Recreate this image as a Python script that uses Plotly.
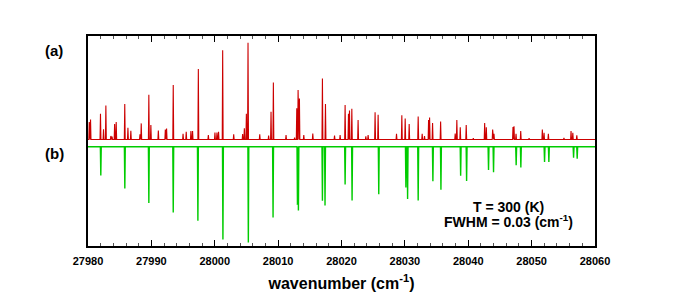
import plotly.graph_objects as go

# ---- data ----
red_pos = [27980.2, 27980.4, 27981.97, 27982.45, 27982.82, 27983.6, 27983.8, 27984.2, 27984.45,
           27985.8, 27986.3, 27986.76, 27988.2, 27988.4, 27989.6, 27989.92, 27991.1, 27992.2,
           27992.4, 27993.45, 27995.0, 27995.5, 27996.24, 27996.5, 27997.41, 27998.99, 28000.03,
           28000.35, 28000.6, 28001.25, 28002.99, 28004.4, 28004.67, 28004.99, 28005.25, 28007.1,
           28008.5, 28008.88, 28009.25, 28011.25, 28012.6, 28012.94, 28013.15, 28013.36, 28014.05,
           28015.47, 28016.99, 28017.47, 28018.9, 28019.78, 28020.57, 28021.1, 28021.26, 28021.63,
           28022.62, 28023.84, 28024.2, 28025.3, 28025.78, 28028.68, 28029.52, 28030.05, 28030.68,
           28032.1, 28032.73, 28033.1, 28033.74, 28033.9, 28034.37, 28035.64, 28037.94, 28038.2,
           28038.74, 28039.68, 28040.8, 28042.59, 28042.85, 28043.85, 28044.06, 28047.06, 28047.22,
           28047.54, 28048.28, 28049.6, 28051.69, 28051.96, 28052.64, 28055.1, 28056.22, 28056.5,
           28057.13]
red_int = [0.18, 0.206, 0.267, 0.107, 0.353, 0.037, 0.03, 0.16, 0.18,
           0.367, 0.123, 0.09, 0.055, 0.167, 0.463, 0.15, 0.093, 0.103,
           0.113, 0.563, 0.06, 0.08, 0.087, 0.087, 0.73, 0.047, 0.073,
           0.073, 0.08, 0.923, 0.053, 0.057, 0.117, 0.267, 1.0, 0.053,
           0.04, 0.287, 0.59, 0.047, 0.02, 0.323, 0.513, 0.423, 0.047,
           0.063, 0.63, 0.367, 0.04, 0.047, 0.357, 0.267, 0.30, 0.317,
           0.203, 0.033, 0.047, 0.283, 0.257, 0.06, 0.25, 0.217, 0.16,
           0.237, 0.06, 0.037, 0.203, 0.227, 0.17, 0.187, 0.063, 0.203,
           0.127, 0.15, 0.015, 0.17, 0.127, 0.103, 0.06, 0.13, 0.137,
           0.06, 0.087, 0.015, 0.103, 0.07, 0.06, 0.017, 0.087, 0.07,
           0.043]

green_pos = [27982.02, 27985.81, 27989.6, 27993.45, 27997.34, 28001.29, 28005.3, 28009.2,
             28013.05, 28013.2, 28016.99, 28017.4, 28020.57, 28021.67, 28025.88, 28030.16,
             28030.43, 28032.1, 28034.42, 28035.69, 28038.8, 28039.74, 28043.2, 28043.99,
             28047.56, 28048.3, 28052.04, 28052.72, 28056.62, 28057.19]
green_int = [0.297, 0.43, 0.58, 0.68, 0.764, 0.957, 0.99, 0.73,
             0.60, 0.657, 0.557, 0.607, 0.39, 0.554, 0.49, 0.42,
             0.54, 0.554, 0.357, 0.444, 0.30, 0.354, 0.24, 0.264,
             0.19, 0.214, 0.157, 0.157, 0.114, 0.124]

x_ticks = [27980, 27990, 28000, 28010, 28020, 28030, 28040, 28050, 28060]

# ---- style / layout parameters ----
X0, X1 = 27980, 28060
base_a = 0.0
base_b = -0.075
half = 0.07   # half-width of each drawn line profile (cm^-1)


def stick_trace(pos, inten, base, sign):
    pairs = sorted(zip(pos, inten))
    xs, ys = [X0], [base]
    for p, v in pairs:
        xs += [p - half, p, p + half]
        ys += [base, base + sign * v, base]
    xs.append(X1)
    ys.append(base)
    return xs, ys


rx, ry = stick_trace(red_pos, red_int, base_a, 1)
gx, gy = stick_trace(green_pos, green_int, base_b, -1)

fig = go.Figure()
fig.add_trace(go.Scatter(x=rx, y=ry, mode="lines",
                         line=dict(color="#cc0000", width=1.1), hoverinfo="skip"))
fig.add_trace(go.Scatter(x=gx, y=gy, mode="lines",
                         line=dict(color="#00cc00", width=1.4), hoverinfo="skip"))

font_family = "Liberation Sans, Arial, Helvetica, sans-serif"

fig.update_layout(
    width=677, height=302,
    margin=dict(l=88, r=82, t=36, b=49),
    paper_bgcolor="white", plot_bgcolor="white",
    showlegend=False,
    font=dict(family=font_family, color="black"),
    xaxis=dict(
        range=[X0, X1], tickmode="array", tickvals=x_ticks,
        ticktext=["<b>%d</b>" % t for t in x_ticks],
        ticks="inside", ticklen=6, tickwidth=1, tickcolor="black",
        ticklabelstandoff=4,
        minor=dict(dtick=2, ticks="inside", ticklen=3, tickcolor="#555555", tickwidth=1),
        showline=True, linecolor="black", linewidth=1.5, mirror="allticks",
        showgrid=False, zeroline=False,
        tickfont=dict(size=11, family=font_family, color="black"),
        title=dict(text="<b>wavenumber (cm<sup>-1</sup>)</b>",
                   font=dict(size=16, family=font_family, color="black"), standoff=12),
    ),
    yaxis=dict(
        range=[-1.10, 1.07], showticklabels=False, ticks="",
        showline=True, linecolor="black", linewidth=1.5, mirror=True,
        showgrid=False, zeroline=False,
    ),
    annotations=[
        dict(text="<b>(a)</b>", x=-0.067, y=0.93, xref="paper", yref="paper",
             showarrow=False, font=dict(size=15, family=font_family), xanchor="center", yanchor="middle"),
        dict(text="<b>(b)</b>", x=-0.067, y=0.44, xref="paper", yref="paper",
             showarrow=False, font=dict(size=15, family=font_family), xanchor="center", yanchor="middle"),
        dict(text="<b>T = 300 (K)</b>", x=0.83, y=0.188, xref="paper", yref="paper",
             showarrow=False, font=dict(size=14, family=font_family), xanchor="center", yanchor="middle"),
        dict(text="<b>FWHM = 0.03 (cm<sup>-1</sup>)</b>", x=0.83, y=0.12, xref="paper", yref="paper",
             showarrow=False, font=dict(size=14, family=font_family), xanchor="center", yanchor="middle"),
    ],
)

fig.write_html("out.html", config={"displayModeBar": False},
               post_script="document.body.style.margin='0';document.body.style.padding='0';")
